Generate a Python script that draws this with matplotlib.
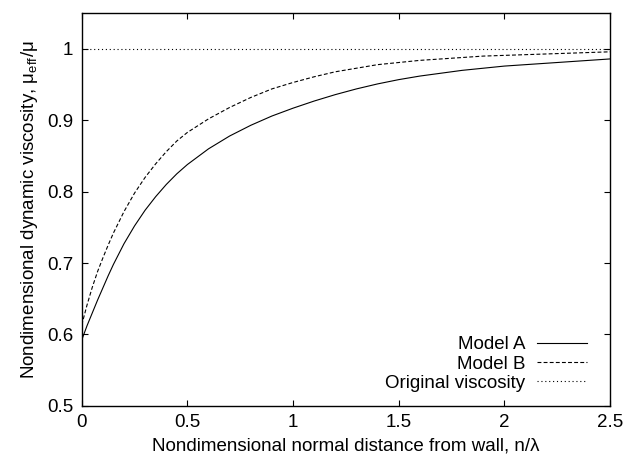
import matplotlib
matplotlib.use("Agg")
import matplotlib.pyplot as plt
from matplotlib.ticker import FuncFormatter

plt.rcParams.update({
    'font.family': ['Liberation Sans', 'DejaVu Sans'],
    'mathtext.fontset': 'custom',
    'mathtext.rm': 'Liberation Sans',
    'mathtext.it': 'Liberation Sans:italic',
})

# values
x_a = [0.0, 0.025, 0.05, 0.075, 0.1, 0.125, 0.15, 0.2, 0.25, 0.3, 0.35, 0.4,
       0.45, 0.5, 0.6, 0.7, 0.8, 0.9, 1.0, 1.1, 1.2, 1.3, 1.4, 1.5, 1.6,
       1.7, 1.8, 1.9, 2.0, 2.1, 2.2, 2.3, 2.4, 2.5]
model_a = [0.592, 0.612, 0.630, 0.648, 0.665, 0.682, 0.698, 0.727, 0.752,
           0.774, 0.793, 0.810, 0.825, 0.838, 0.860, 0.878, 0.893, 0.906,
           0.917, 0.927, 0.936, 0.944, 0.951, 0.957, 0.962, 0.966, 0.970,
           0.973, 0.976, 0.978, 0.980, 0.982, 0.984, 0.986]

x_b = [0.0, 0.025, 0.05, 0.075, 0.1, 0.125, 0.15, 0.2, 0.25, 0.3, 0.35, 0.4,
       0.45, 0.5, 0.6, 0.7, 0.8, 0.9, 1.0, 1.1, 1.2, 1.3, 1.4, 1.5, 1.6,
       1.7, 1.8, 1.9, 2.0, 2.1, 2.2, 2.3, 2.4, 2.5]
model_b = [0.613, 0.641, 0.666, 0.688, 0.707, 0.725, 0.742, 0.772, 0.798,
           0.820, 0.839, 0.856, 0.871, 0.883, 0.902, 0.918, 0.932, 0.944,
           0.953, 0.961, 0.968, 0.973, 0.978, 0.981, 0.984, 0.986, 0.988,
           0.990, 0.991, 0.992, 0.993, 0.994, 0.995, 0.996]

x_orig = [0.0, 2.5]
original = [1.0, 1.0]

fig = plt.figure(figsize=(6.32, 4.58), dpi=100)
ax = fig.add_axes([0.1293, 0.1142, 0.8359, 0.8568])

ax.plot(x_a, model_a, color='black', lw=0.8, label='Model A')
ax.plot(x_b, model_b, color='black', lw=0.8, ls=(0, (3.5, 2)), label='Model B')
ax.plot(x_orig, original, color='black', lw=0.8, ls=(0, (1, 2.5)),
        label='Original viscosity')

ax.set_xlim(0, 2.5)
ax.set_ylim(0.5, 1.05)
ax.set_xticks([0, 0.5, 1, 1.5, 2, 2.5])
ax.set_yticks([0.5, 0.6, 0.7, 0.8, 0.9, 1.0])
fmt = FuncFormatter(lambda v, p: '%g' % round(v, 3))
ax.xaxis.set_major_formatter(fmt)
ax.yaxis.set_major_formatter(fmt)
ax.tick_params(direction='in', length=4.5, width=0.8, top=True, right=True,
               labelsize=13.5, pad=6)
for s in ax.spines.values():
    s.set_linewidth(1.0)

ax.set_xlabel('Nondimensional normal distance from wall, n/λ', fontsize=13.5,
              labelpad=5)
ax.set_ylabel(r'Nondimensional dynamic viscosity, μ$_{\mathrm{eff}}$/μ',
              fontsize=13.5, labelpad=5)

ax.legend(loc='lower right', bbox_to_anchor=(0.971, 0.016), borderaxespad=0,
          frameon=False, markerfirst=False, fontsize=13.5,
          handlelength=2.67, handletextpad=0.64, labelspacing=0.12)

fig.savefig('out.png', dpi=100)
